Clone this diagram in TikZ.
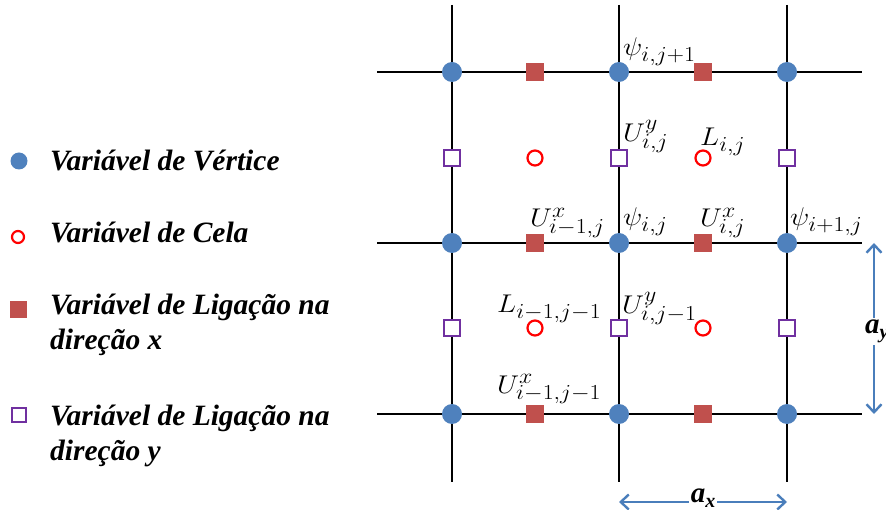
\documentclass[tikz,border=0pt]{standalone}
\usepackage{fontspec}
\newfontfamily\legfont{Liberation Serif}
\usetikzlibrary{arrows.meta}
\definecolor{vblue}{HTML}{4F81BD}
\definecolor{lred}{HTML}{C0504D}
\definecolor{cred}{HTML}{FF0000}
\definecolor{ypurple}{HTML}{7030A0}
\definecolor{arrblue}{HTML}{4A7EBB}
\newcommand{\mlab}[1]{\scalebox{1.15}[1.03]{$#1$}}
\tikzset{
  gridline/.style={line width=2.4pt, black},
  vert/.style={circle, fill=vblue, minimum size=20pt, inner sep=0pt},
  cella/.style={circle, draw=cred, line width=2.2pt, fill=white, minimum size=15pt, inner sep=0pt},
  linkx/.style={rectangle, fill=lred, minimum size=18pt, inner sep=0pt},
  linky/.style={rectangle, draw=ypurple, line width=2pt, fill=white, minimum size=16pt, inner sep=0pt},
  lbl/.style={anchor=base west, inner sep=0pt, font=\fontsize{24.88}{30}\selectfont},
  legtext/.style={anchor=base west, inner sep=0pt, font=\legfont\bfseries\itshape\fontsize{29.5}{35}\selectfont},
  dimarrow/.style={arrblue, line width=2.4pt, {Straight Barb[length=8pt,width=15pt]}-{Straight Barb[length=8pt,width=15pt]}},
  dimlabel/.style={fill=white, inner sep=2pt, font=\legfont\bfseries\itshape\fontsize{29}{35}\selectfont}
}
\begin{document}
\begin{tikzpicture}[x=1pt,y=-1pt]
\useasboundingbox (0,0) rectangle (886,510);
% grid lines
\foreach \c/\X in {1/452,2/619,3/787}{
  \coordinate (vt\c) at (\X,5);
  \coordinate (vb\c) at (\X,482);
  \draw[gridline] (vt\c) -- (vb\c);
}
\foreach \r/\Y in {1/72,2/243,3/414}{
  \coordinate (hl\r) at (377,\Y);
  \coordinate (hr\r) at (862,\Y);
  \draw[gridline] (hl\r) -- (hr\r);
}
% vertex variables
\foreach \c/\X in {1/452,2/619,3/787}{
  \foreach \r/\Y in {1/72,2/243,3/414}{
    \node[vert] (v\c\r) at (\X,\Y) {};
  }
}
% x-link variables
\foreach \c/\X in {1/535,2/703}{
  \foreach \r/\Y in {1/72,2/243,3/414}{
    \node[linkx] (lx\c\r) at (\X,\Y) {};
  }
}
% y-link variables
\foreach \c/\X in {1/452,2/619,3/787}{
  \foreach \r/\Y in {1/158,2/328}{
    \node[linky] (ly\c\r) at (\X,\Y) {};
  }
}
% cell variables
\foreach \c/\X in {1/535,2/703}{
  \foreach \r/\Y in {1/158,2/328}{
    \node[cella] (ce\c\r) at (\X,\Y) {};
  }
}
% labels
\node[lbl] (p1) at (623,56) {\mlab{\psi_{i,j+1}}};
\node[lbl] (uy1) at (623,142) {\mlab{U^y_{i,j}}};
\node[lbl] (l1) at (700,146) {\mlab{L_{i,j}}};
\node[lbl] (ux1) at (530,227) {\mlab{U^x_{i-1,j}}};
\node[lbl] (p2) at (623,226) {\mlab{\psi_{i,j}}};
\node[lbl] (ux2) at (700,227) {\mlab{U^x_{i,j}}};
\node[lbl] (p3) at (790,226) {\mlab{\psi_{i+1,j}}};
\node[lbl] (l2) at (497,313) {\mlab{L_{i-1,j-1}}};
\node[lbl] (uy2) at (622,314) {\mlab{U^y_{i,j-1}}};
\node[lbl] (ux3) at (497,393) {\mlab{U^x_{i-1,j-1}}};
% dimension arrows
\coordinate (axl) at (619,502);
\coordinate (axr) at (787,502);
\draw[dimarrow] (axl) -- (axr);
\node[dimlabel, anchor=base] (ax) at (703,502) {a\raisebox{-5pt}{\fontsize{20}{24}\selectfont x}};
\coordinate (ayt) at (874,243);
\coordinate (ayb) at (874,414);
\draw[dimarrow] (ayt) -- (ayb);
\node[dimlabel, anchor=base west] (ay) at (863,334) {a\raisebox{-5pt}{\fontsize{20}{24}\selectfont y}};
% legend
\node[vert, minimum size=17pt] (k1) at (19,161) {};
\node[legtext] (t1) at (50,171) {Variável de Vértice};
\node[cella, minimum size=12pt] (k2) at (18,237) {};
\node[legtext] (t2) at (50,243) {Variável de Cela};
\node[linkx, minimum size=17pt] (k3) at (18,310) {};
\node[legtext] (t3) at (50,315) {Variável de Ligação na};
\node[legtext] (t3b) at (50,350) {direção x};
\node[linky, minimum size=14pt] (k4) at (19,415) {};
\node[legtext] (t4) at (50,425) {Variável de Ligação na};
\node[legtext] (t4b) at (50,460) {direção y};
\end{tikzpicture}
\end{document}
